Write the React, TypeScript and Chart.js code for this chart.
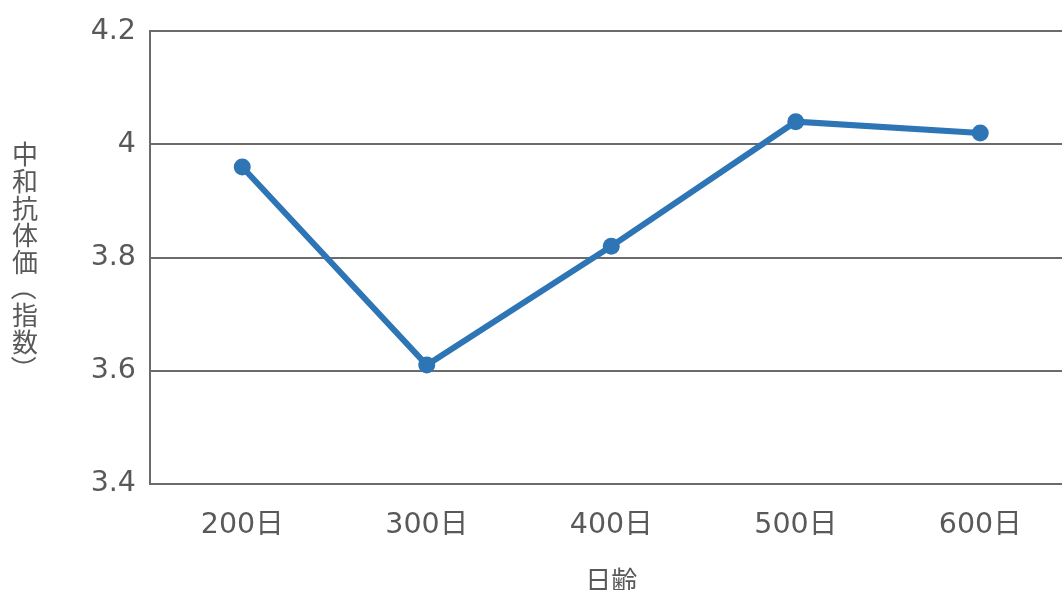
import React, { useEffect, useRef } from "react";
import { Chart, registerables } from "chart.js";

Chart.register(...registerables);

const categories = ["200日", "300日", "400日", "500日", "600日"];
const values = [3.96, 3.61, 3.82, 4.04, 4.02];
const yTicks = [3.4, 3.6, 3.8, 4, 4.2];
const yTitle = "中和抗体価（指数）";
const xTitle = "日齢";

const FONT = '"DejaVu Sans", "Noto Sans CJK JP", sans-serif';
const CJK = '"Noto Sans CJK JP", sans-serif';
const TEXT = "#595959";
const GRID = "#6b6b6b";
const BLUE = "#2e75b6";

export default function App() {
  const ref = useRef<HTMLCanvasElement | null>(null);
  useEffect(() => {
    if (!ref.current) return;
    const chart = new Chart(ref.current, {
      type: "line",
      data: {
        labels: categories,
        datasets: [
          {
            data: values,
            borderColor: BLUE,
            backgroundColor: BLUE,
            borderWidth: 6,
            pointRadius: 8.5,
            pointHoverRadius: 8.5,
            pointBackgroundColor: BLUE,
            pointBorderWidth: 0,
            tension: 0,
          },
        ],
      },
      options: {
        animation: false,
        responsive: false,
        maintainAspectRatio: false,
        layout: { padding: { top: 26, left: 0, right: 0, bottom: 0 } },
        plugins: { legend: { display: false }, tooltip: { enabled: false } },
        scales: {
          x: {
            offset: true,
            grid: { display: false },
            border: { display: false },
            ticks: {
              color: TEXT,
              font: { family: FONT, size: 28.5 },
              padding: 16,
              maxRotation: 0,
            },
            title: {
              display: true,
              text: xTitle,
              color: TEXT,
              font: { family: CJK, size: 26 },
              padding: { top: 0, bottom: 4 },
            },
            afterFit: (s: any) => {
              s.height = 116;
            },
          },
          y: {
            min: 3.4,
            max: 4.2,
            afterBuildTicks: (s: any) => {
              s.ticks = yTicks.map((v) => ({ value: v }));
            },
            grid: { color: GRID, lineWidth: 2, drawTicks: false },
            border: { display: true, color: GRID, width: 2 },
            ticks: {
              color: TEXT,
              font: { family: FONT, size: 28.5 },
              padding: 14,
              callback: (v: any) => String(Number(Number(v).toFixed(1))),
            },
            afterFit: (s: any) => {
              s.width = 150;
            },
          },
        },
      },
    });
    return () => chart.destroy();
  }, []);
  const chars = Array.from(yTitle);
  return (
    <div
      style={{
        position: "fixed",
        left: 0,
        top: 0,
        width: 1062,
        height: 590,
        overflow: "hidden",
        background: "#fff",
      }}
    >
      <canvas ref={ref} width={1081} height={600} style={{ display: "block" }} />
      <div
        style={{
          position: "absolute",
          left: 8,
          top: 140,
          width: 34,
          display: "flex",
          flexDirection: "column",
          alignItems: "center",
          fontFamily: CJK,
          fontSize: 26,
          color: TEXT,
        }}
      >
        {chars.map((c, i) => (
          <span
            key={i}
            style={{
              display: "block",
              height: 26.9,
              lineHeight: "26.9px",
              transform: c === "（" || c === "）" ? "rotate(90deg)" : undefined,
            }}
          >
            {c}
          </span>
        ))}
      </div>
    </div>
  );
}
